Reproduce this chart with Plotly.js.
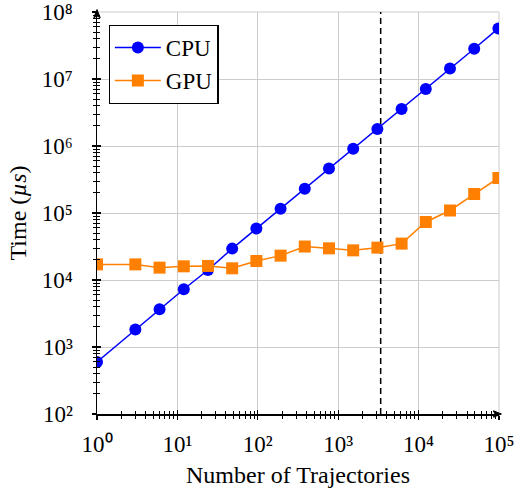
<!DOCTYPE html>
<html>
<head>
<meta charset="utf-8">
<script src="https://cdn.plot.ly/plotly-3.0.1.min.js"></script>
<style>
  html, body { margin: 0; padding: 0; background: #fff; }
  #chart { width: 514px; height: 493px; }
</style>
</head>
<body>
<div id="chart"></div>
<script>
// ---- data ----
const trajectories = [1, 3, 6, 12, 24, 48, 96, 192, 384, 768, 1536, 3072, 6144, 12288, 24576, 49152, 98304];
const cpuTime = [597, 1820, 3650, 7270, 14100, 29400, 58500, 116000, 231000, 463000, 912000, 1790000, 3560000, 7080000, 14300000, 28300000, 56900000];
const gpuTime = [17100, 17100, 15300, 16000, 16200, 14950, 19200, 23100, 31600, 29700, 27700, 30400, 34900, 73400, 109000, 192000, 333000];
const thresholdX = [3375, 3375];
const thresholdY = [100, 1e8];
const xTickVals = [1, 10, 100, 1000, 10000, 100000];
const xTickText = ['10⁰', '10¹', '10²', '10³', '10⁴', '10⁵'];
const yTickVals = [1e2, 1e3, 1e4, 1e5, 1e6, 1e7, 1e8];
const yTickText = ['10²', '10³', '10⁴', '10⁵', '10⁶', '10⁷', '10⁸'];

function minorVals(lo, hi) {
  const out = [];
  for (let e = lo; e < hi; e++) for (let d = 2; d <= 9; d++) out.push(d * Math.pow(10, e));
  return out;
}
const xMinor = minorVals(0, 5);
const yMinor = minorVals(2, 8);

const FONT = 'Liberation Serif, Times New Roman, serif';
const GRID = '#cccccc';

const traces = [
  {
    x: thresholdX, y: thresholdY, mode: 'lines', showlegend: false, hoverinfo: 'skip',
    line: { color: '#000', width: 1.5, dash: '6px,4px' }
  },
  {
    x: trajectories, y: cpuTime, name: 'CPU', mode: 'lines+markers',
    line: { color: '#0000ff', width: 1.5 },
    marker: { symbol: 'circle', size: 12, color: '#0000ff' }
  },
  {
    x: trajectories, y: gpuTime, name: 'GPU', mode: 'lines+markers',
    line: { color: '#ff8000', width: 1.5 },
    marker: { symbol: 'square', size: 12, color: '#ff8000' }
  },
  // invisible trace to activate overlay axes (ticks drawn across the axis line)
  { x: [1], y: [100], xaxis: 'x2', yaxis: 'y2', mode: 'markers', marker: { opacity: 0 }, showlegend: false, hoverinfo: 'skip' }
];

const baseX = {
  type: 'log', range: [0, 5], tickmode: 'array', tickvals: xTickVals,
  tickcolor: '#000', tickwidth: 1.2,
  minor: { tickmode: 'array', tickvals: xMinor, ticklen: 3, tickcolor: '#000', tickwidth: 1, showgrid: false }
};
const baseY = {
  type: 'log', range: [2, 8], tickmode: 'array', tickvals: yTickVals,
  tickcolor: '#000', tickwidth: 1.2,
  minor: { tickmode: 'array', tickvals: yMinor, ticklen: 3, tickcolor: '#000', tickwidth: 1, showgrid: false }
};

const layout = {
  width: 514, height: 493,
  margin: { l: 97, r: 15, t: 12, b: 79 },
  paper_bgcolor: '#fff', plot_bgcolor: '#fff',
  font: { family: FONT, size: 22, color: '#000' },
  showlegend: true,
  legend: {
    x: 0.029, y: 0.968, xanchor: 'left', yanchor: 'top',
    bgcolor: '#fff', bordercolor: '#000', borderwidth: 1.2,
    font: { family: FONT, size: 23, color: '#000' },
    tracegroupgap: 0, itemwidth: 46
  },
  xaxis: Object.assign({}, baseX, {
    ticktext: xTickText, ticks: 'outside', ticklen: 4,
    minor: Object.assign({}, baseX.minor, { ticks: 'outside' }),
    showgrid: true, gridcolor: GRID, gridwidth: 1,
    showline: true, linecolor: '#000', linewidth: 1.5, mirror: false,
    tickfont: { family: FONT, size: 23 },
    ticklabeloverflow: 'allow', ticklabelstandoff: 5,
    title: { text: 'Number of Trajectories', font: { family: FONT, size: 24 }, standoff: 10 },
    zeroline: false
  }),
  xaxis2: Object.assign({}, baseX, {
    overlaying: 'x', anchor: 'y', side: 'bottom',
    ticks: 'inside', ticklen: 4, showticklabels: false, showgrid: false, showline: false,
    minor: Object.assign({}, baseX.minor, { ticks: 'inside' })
  }),
  yaxis: Object.assign({}, baseY, {
    ticktext: yTickText, ticks: 'outside', ticklen: 4,
    minor: Object.assign({}, baseY.minor, { ticks: 'outside' }),
    showgrid: true, gridcolor: GRID, gridwidth: 1,
    showline: true, linecolor: '#000', linewidth: 1.5, mirror: false,
    tickfont: { family: FONT, size: 23 },
    ticklabeloverflow: 'allow', ticklabelstandoff: 14,
    title: { text: 'Time (<i>µs</i>)', font: { family: FONT, size: 24 }, standoff: 8 },
    zeroline: false
  }),
  yaxis2: Object.assign({}, baseY, {
    overlaying: 'y', anchor: 'x', side: 'left',
    ticks: 'inside', ticklen: 4, showticklabels: false, showgrid: false, showline: false,
    minor: Object.assign({}, baseY.minor, { ticks: 'inside' })
  }),
  shapes: [
    // grid lines at the far ends (Plotly clips grid lines that sit on the plot edges)
    { type: 'line', xref: 'paper', yref: 'paper', x0: 1, x1: 1, y0: 0, y1: 1, line: { color: GRID, width: 1 }, layer: 'below' },
    { type: 'line', xref: 'paper', yref: 'paper', x0: 0, x1: 1, y0: 1, y1: 1, line: { color: GRID, width: 1 }, layer: 'below' },
    // axis arrow tips
    { type: 'path', xref: 'paper', yref: 'paper', path: 'M 1.006 0 L 0.986 0.008 L 0.99 0 L 0.986 -0.008 Z', fillcolor: '#000', line: { color: '#000', width: 1 } },
    { type: 'path', xref: 'paper', yref: 'paper', path: 'M 0 1.006 L -0.008 0.986 L 0 0.99 L 0.008 0.986 Z', fillcolor: '#000', line: { color: '#000', width: 1 } }
  ]
};

Plotly.newPlot('chart', traces, layout, { staticPlot: true, displayModeBar: false });
</script>
</body>
</html>
